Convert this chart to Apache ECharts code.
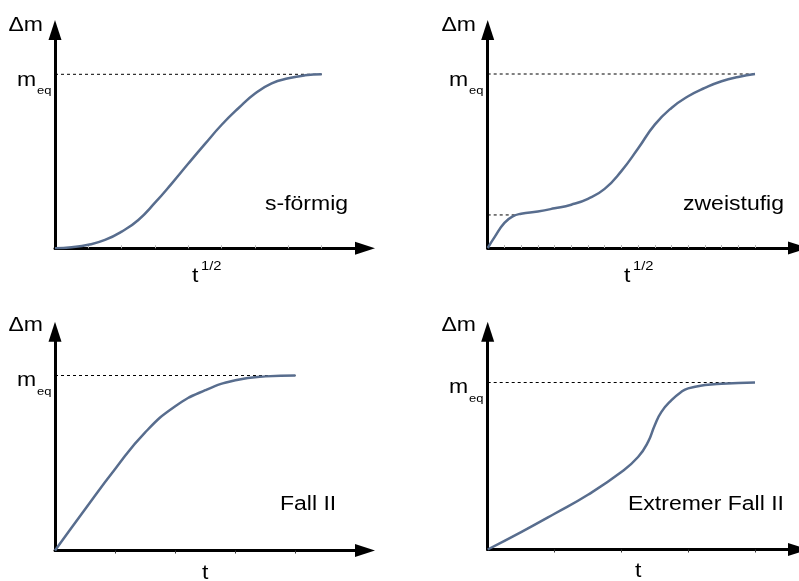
<!DOCTYPE html>
<html>
<head>
<meta charset="utf-8">
<script src="https://cdn.jsdelivr.net/npm/echarts/dist/echarts.min.js"></script>
<style>
html,body{margin:0;padding:0;background:#fff;}
#chart{width:799px;height:581px;}
</style>
</head>
<body>
<div id="chart"></div>
<script>
// ---------- data ----------
const sX = [0,0.5,1,1.5,2,2.5,3,3.5,4,4.5,5,5.5,6,6.5,7,7.5,8];
const sY = [0,0.006,0.02,0.048,0.096,0.163,0.262,0.372,0.487,0.6,0.71,0.805,0.89,0.948,0.977,0.994,1.0];

const zX = [0,0.22,0.5,0.75,1,1.5,2,2.5,3,3.5,4,4.5,5,5.5,6,6.5,7,7.5,8];
const zY = [0,0.067,0.144,0.182,0.197,0.21,0.228,0.249,0.283,0.34,0.442,0.572,0.709,0.805,0.872,0.92,0.958,0.983,1.0];

const fX = [0,0.5,1,1.5,2,2.5,3,3.5,4];
const fY = [0,0.236,0.466,0.675,0.824,0.916,0.973,0.995,1.0];

const eX = [0,0.5,1,1.5,2,2.25,2.4,2.5,2.6,2.75,2.9,3,3.25,3.5,4];
const eY = [0,0.104,0.214,0.328,0.464,0.554,0.644,0.744,0.824,0.894,0.945,0.965,0.985,0.993,1.0];

const meq = 1;                       // equilibrium level
const eqEndX = [8, 8, 4, 4];         // where the m_eq dashed line ends
const stepLevel = 0.19;              // first plateau in "zweistufig"
const stepEndX = 0.87;

const ticks1 = [1,2,3,4,5,6,7,8];
const ticks2 = [0.5,1,1.5,2,2.5,3,3.5,4,4.5,5,5.5,6,6.5,7,7.5,8];
const ticks3 = [1,2,3,4];
const ticks4 = [1,2,3,4];

const curveNames = ['s-förmig','zweistufig','Fall II','Extremer Fall II'];
const xAxisNames = ['t','t','t','t'];
const xAxisSup = ['1/2','1/2','',''];
const yAxisName = 'Δm';

// ---------- layout (pixels) ----------
const ARROW = [13, 20];
const panels = [
  {axisX:55,    axisY:248.3, tipX:375, tipY:20,    endX:321.7, eqY:74.3,  dataEnd:8},
  {axisX:487.7, axisY:248,   tipX:808, tipY:20,    endX:755,   eqY:74,    dataEnd:8},
  {axisX:55,    axisY:550.5, tipX:375, tipY:321.7, endX:295.5, eqY:375.5, dataEnd:4},
  {axisX:487.7, axisY:549.5, tipX:808, tipY:321.7, endX:755,   eqY:382.5, dataEnd:4}
];
const tickSets = [ticks1, ticks2, ticks3, ticks4];
const tickStyle = [
  {inside:true,  color:'#b5b5b5'},
  {inside:true,  color:'#b5b5b5'},
  {inside:false, color:'#333'},
  {inside:false, color:'#333'}
];
const curves = [[sX,sY],[zX,zY],[fX,fY],[eX,eY]];

const grids = [], xAxes = [], yAxes = [], series = [];
panels.forEach((p, i) => {
  const right = p.tipX - ARROW[1]/2;
  const top = p.tipY + ARROW[1]/2;
  const w = right - p.axisX;
  const h = p.axisY - top;
  grids.push({left:p.axisX, top:top, width:w, height:h, containLabel:false});
  const xmax = p.dataEnd * w / (p.endX - p.axisX);
  const ymax = meq * h / (p.axisY - p.eqY);
  xAxes.push({
    gridIndex:i, type:'value', min:0, max:xmax,
    axisLine:{show:true, onZero:false, symbol:['none','triangle'], symbolSize:ARROW,
      lineStyle:{color:'#000', width:3}},
    axisTick:{show:true, customValues:tickSets[i], inside:tickStyle[i].inside, length:3,
      lineStyle:{color:tickStyle[i].color, width:1}},
    axisLabel:{show:false}, splitLine:{show:false}
  });
  yAxes.push({
    gridIndex:i, type:'value', min:0, max:ymax,
    axisLine:{show:true, onZero:false, symbol:['none','triangle'], symbolSize:ARROW,
      lineStyle:{color:'#000', width:3}},
    axisTick:{show:false}, axisLabel:{show:false}, splitLine:{show:false}
  });
  // dashed m_eq line
  series.push({
    type:'line', xAxisIndex:i, yAxisIndex:i, silent:true, showSymbol:false, z:1,
    data:[[0,meq],[eqEndX[i],meq]],
    lineStyle:{color:'#000', width:1, type:[3,3]}
  });
  // curve
  const cx = curves[i][0], cy = curves[i][1];
  series.push({
    type:'line', xAxisIndex:i, yAxisIndex:i, silent:true, showSymbol:false, z:3,
    smooth:0.5,
    data: cx.map((v,k)=>[v, cy[k]]),
    lineStyle:{color:'#586d8e', width:2.5}
  });
});
// first plateau dashed line in "zweistufig"
series.push({
  type:'line', xAxisIndex:1, yAxisIndex:1, silent:true, showSymbol:false, z:1,
  data:[[0,stepLevel],[stepEndX,stepLevel]],
  lineStyle:{color:'#000', width:1, type:[3,3]}
});

// ---------- texts ----------
const F = 19.5, FS = 11, FSUP = 12.5, SX = 1.18, FAM = '"Liberation Sans", Arial, sans-serif';
function txt(text, x, baseline, size, align) {
  return {
    type:'text', x:x, y:baseline - 0.35*size, scaleX:SX, silent:true, z:10,
    style:{text:text, x:0, y:0, fontSize:size, fontFamily:FAM, fill:'#000',
      align:align, textAlign:align, verticalAlign:'middle', textVerticalAlign:'middle'}
  };
}
const textPos = [
  {dm:[43,32],  m:[17,87],   eq:[37,95],    name:[265,211], t:[192,283], sup:[201,271]},
  {dm:[476,32], m:[449,87],  eq:[469,95],   name:[683,211], t:[624,283], sup:[633,271]},
  {dm:[43,332], m:[17,387],  eq:[37,396],   name:[280,511], t:[202,580], sup:null},
  {dm:[476,332],m:[449,394.5],eq:[469,403], name:[628,511], t:[635,578], sup:null}
];
const graphics = [];
textPos.forEach((q, i) => {
  graphics.push(txt(yAxisName, q.dm[0], q.dm[1], F, 'right'));
  graphics.push(txt('m', q.m[0], q.m[1], F, 'left'));
  graphics.push(txt('eq', q.eq[0], q.eq[1], FS, 'left'));
  graphics.push(txt(curveNames[i], q.name[0], q.name[1], F, 'left'));
  graphics.push(txt(xAxisNames[i], q.t[0], q.t[1], F, 'left'));
  if (q.sup && xAxisSup[i]) graphics.push(txt(xAxisSup[i], q.sup[0], q.sup[1], FSUP, 'left'));
});

const chart = echarts.init(document.getElementById('chart'), null, {renderer:'canvas'});
chart.setOption({
  animation:false,
  backgroundColor:'#fff',
  grid:grids, xAxis:xAxes, yAxis:yAxes, series:series,
  graphic:{elements:graphics}
});
</script>
</body>
</html>
